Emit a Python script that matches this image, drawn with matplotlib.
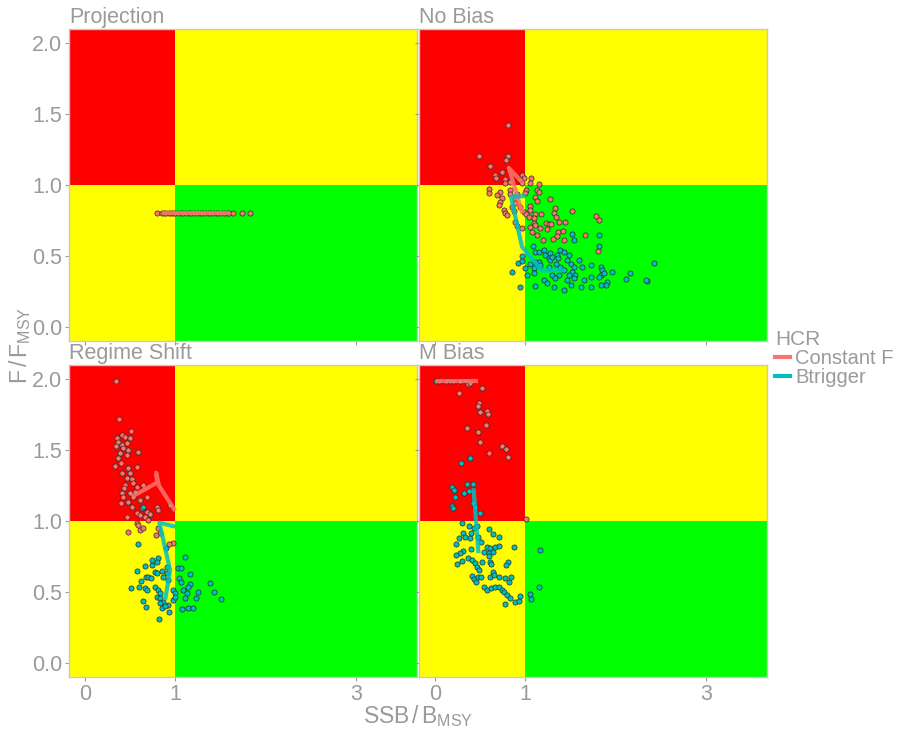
import matplotlib
matplotlib.use('Agg')
import matplotlib.pyplot as plt
from matplotlib.patches import Rectangle
from matplotlib.lines import Line2D

# ---- data ----
PANELS = ['Projection', 'No Bias', 'Regime Shift', 'M Bias']
HCR = ['Constant F', 'Btrigger']
HCR_COLORS = ['#F8766D', '#00BFC4']

# Projection
proj_cf_x = [0.80, 0.86, 0.88, 0.90, 0.93, 0.95, 0.98, 1.00, 1.03, 1.06, 1.09, 1.12, 1.15,
             1.18, 1.21, 1.24, 1.27, 1.30, 1.33, 1.36, 1.39, 1.42, 1.45, 1.48, 1.51, 1.54,
             1.57, 1.60, 1.64, 1.74, 1.83]
proj_cf_y = [0.80] * len(proj_cf_x)
proj_cf_line_x = [0.86, 1.60]
proj_cf_line_y = [0.80, 0.80]

# No Bias
nobias_cf_x = [0.806, 0.495, 0.806, 0.788, 0.607, 0.743, 0.669, 0.680, 0.773, 0.780, 0.829,
               0.966, 0.984, 0.947, 1.069, 0.966, 1.151, 1.058, 0.595, 0.595, 0.725, 0.688,
               0.829, 0.836, 0.910, 1.014, 1.003, 1.132, 1.151, 0.743, 0.725, 0.706, 0.884,
               0.892, 1.106, 1.132, 1.273, 0.762, 0.780, 0.799, 0.855, 0.873, 0.947, 0.984,
               1.051, 1.058, 1.014, 1.040, 1.114, 1.177, 1.329, 1.317, 1.347, 1.521, 1.095,
               1.095, 0.892, 0.910, 0.966, 1.058, 1.114, 1.169, 1.236, 1.262, 1.292, 1.243,
               1.373, 1.440, 1.077, 1.132, 1.366, 1.421, 1.355, 1.310, 1.199, 1.429, 1.669,
               1.788, 1.817, 1.810]
nobias_cf_y = [1.426, 1.203, 1.205, 1.179, 1.132, 1.092, 1.069, 1.050, 1.038, 1.010, 1.020,
               1.069, 1.045, 1.033, 1.052, 1.010, 1.005, 1.010, 0.968, 0.940, 0.951, 0.928,
               0.963, 0.935, 0.939, 0.967, 0.944, 0.967, 0.951, 0.904, 0.880, 0.857, 0.897,
               0.869, 0.911, 0.888, 0.897, 0.822, 0.798, 0.786, 0.845, 0.817, 0.845, 0.810,
               0.850, 0.822, 0.793, 0.775, 0.793, 0.791, 0.834, 0.798, 0.770, 0.819, 0.763,
               0.728, 0.739, 0.709, 0.697, 0.704, 0.716, 0.697, 0.728, 0.723, 0.721, 0.685,
               0.735, 0.737, 0.669, 0.645, 0.669, 0.671, 0.638, 0.615, 0.610, 0.610, 0.643,
               0.777, 0.751, 0.532]
nobias_bt_x = [1.521, 1.540, 1.817, 1.817, 1.084, 0.966, 0.921, 0.966, 0.855, 0.940, 1.058,
               0.995, 1.021, 1.114, 1.106, 1.158, 1.207, 1.225, 1.095, 1.095, 1.151, 1.169,
               1.262, 1.280, 1.355, 1.366, 1.347, 1.262, 1.392, 1.429, 1.484, 1.466, 1.503,
               1.540, 1.521, 1.484, 1.595, 1.632, 1.558, 1.207, 1.243, 1.299, 1.336, 1.373,
               1.317, 1.429, 1.466, 1.540, 1.503, 1.650, 1.725, 1.725, 1.614, 1.725, 1.836,
               1.855, 1.836, 1.817, 1.873, 1.966, 1.910, 1.892, 1.836, 2.114, 2.162, 2.355,
               2.429, 1.280, 1.299, 1.392, 1.429, 1.114, 2.34]
nobias_bt_y = [0.650, 0.610, 0.648, 0.568, 0.568, 0.497, 0.452, 0.464, 0.387, 0.276, 0.445,
               0.410, 0.363, 0.288, 0.528, 0.528, 0.540, 0.504, 0.410, 0.375, 0.457, 0.434,
               0.481, 0.469, 0.504, 0.481, 0.445, 0.422, 0.540, 0.528, 0.504, 0.469, 0.445,
               0.422, 0.387, 0.363, 0.473, 0.422, 0.363, 0.328, 0.309, 0.363, 0.340, 0.363,
               0.281, 0.257, 0.328, 0.340, 0.293, 0.328, 0.351, 0.281, 0.281, 0.434, 0.422,
               0.398, 0.363, 0.351, 0.375, 0.387, 0.316, 0.293, 0.293, 0.335, 0.375, 0.321,
               0.452, 0.516, 0.492, 0.422, 0.398, 0.457, 0.33]
nobias_cf_line_x = [0.97, 0.82, 0.98]
nobias_cf_line_y = [0.80, 1.12, 1.01]
nobias_bt_line_x = [1.003, 0.844, 0.966, 1.188, 1.429]
nobias_bt_line_y = [0.921, 0.916, 0.563, 0.394, 0.399]

# Regime Shift
regime_cf_x = [0.344, 0.381, 0.511, 0.407, 0.444, 0.500, 0.352, 0.370, 0.344, 0.407, 0.426,
               0.389, 0.463, 0.481, 0.463, 0.592, 0.370, 0.333, 0.396, 0.581, 0.481, 0.500,
               0.407, 0.463, 0.518, 0.537, 0.648, 0.574, 0.555, 0.444, 0.430, 0.407, 0.426,
               0.500, 0.537, 0.685, 0.400, 0.481, 0.518, 0.611, 0.630, 0.574, 0.611, 0.685,
               0.722, 0.796, 0.807, 0.944, 0.666, 0.704, 0.481, 0.611, 0.648, 0.574, 0.592,
               0.463, 0.815, 0.833, 0.789, 0.974, 0.937]
regime_cf_y = [1.990, 1.717, 1.637, 1.606, 1.590, 1.583, 1.583, 1.559, 1.529, 1.536, 1.512,
               1.477, 1.548, 1.500, 1.465, 1.489, 1.442, 1.387, 1.406, 1.378, 1.371, 1.336,
               1.336, 1.300, 1.293, 1.265, 1.253, 1.242, 1.206, 1.253, 1.230, 1.199, 1.171,
               1.194, 1.166, 1.171, 1.124, 1.136, 1.100, 1.147, 1.089, 1.053, 1.042, 1.065,
               1.049, 1.100, 1.077, 1.112, 1.030, 1.006, 0.919, 0.936, 0.947, 0.987, 0.971,
               1.030, 0.948, 0.912, 0.900, 0.846, 0.837]
regime_bt_x = [0.585, 0.641, 0.807, 0.796, 0.900, 0.581, 0.511, 0.622, 0.666, 0.740, 0.678,
               0.704, 0.729, 0.778, 0.796, 0.852, 0.870, 0.926, 0.915, 0.603, 0.666, 0.692,
               0.778, 0.815, 0.833, 0.796, 0.833, 0.870, 0.641, 0.678, 0.833, 0.852, 0.926,
               0.889, 0.826, 0.937, 0.981, 1.000, 0.981, 1.037, 1.063, 1.044, 1.063, 1.111,
               1.166, 1.092, 1.129, 1.111, 1.074, 1.148, 1.196, 1.166, 1.148, 1.252, 1.233,
               1.381, 1.426, 1.507, 0.907, 0.740, 1.000]
regime_bt_y = [0.835, 1.100, 0.736, 0.712, 0.806, 0.649, 0.524, 0.576, 0.684, 0.689, 0.606,
               0.602, 0.595, 0.642, 0.630, 0.649, 0.606, 0.583, 0.630, 0.536, 0.524, 0.512,
               0.536, 0.512, 0.489, 0.461, 0.453, 0.430, 0.437, 0.395, 0.418, 0.383, 0.407,
               0.400, 0.308, 0.360, 0.512, 0.489, 0.442, 0.665, 0.665, 0.595, 0.571, 0.748,
               0.623, 0.512, 0.489, 0.453, 0.376, 0.383, 0.383, 0.555, 0.536, 0.500, 0.453,
               0.564, 0.496, 0.446, 0.677, 0.724, 0.465]
regime_cf_line_x = [0.52, 0.80, 0.79, 0.82, 1.00]
regime_cf_line_y = [1.17, 1.27, 1.34, 1.25, 1.07]
regime_bt_line_x = [1.000, 0.826, 0.944, 0.889]
regime_bt_line_y = [0.959, 0.987, 0.652, 0.440]

# M Bias
mbias_cf_x = [0.05, 0.12, 0.20, 0.28, 0.35, 0.373, 0.392, 0.521, 0.273, 0.495, 0.477, 0.503,
              0.577, 0.588, 0.566, 0.362, 0.477, 0.503, 0.743, 0.788, 0.595, 0.806, 1.010]
mbias_cf_y = [1.99, 1.99, 1.99, 1.99, 1.99, 1.966, 1.976, 1.936, 1.905, 1.834, 1.811, 1.766,
              1.776, 1.754, 1.677, 1.653, 1.630, 1.559, 1.531, 1.507, 1.477, 1.449, 1.013]
mbias_bt_x = [0.014, 0.169, 0.392, 0.292, 0.355, 0.421, 0.195, 0.217, 0.329, 0.384, 0.225,
              0.195, 0.199, 0.421, 0.447, 0.503, 0.299, 0.384, 0.429, 0.473, 0.603, 0.310,
              0.336, 0.392, 0.650, 0.706, 0.273, 0.399, 0.484, 0.514, 0.232, 0.317, 0.280,
              0.236, 0.403, 0.577, 0.614, 0.669, 0.706, 0.547, 0.595, 0.643, 0.603, 0.880,
              0.299, 0.243, 0.373, 0.410, 0.440, 0.466, 0.495, 0.521, 0.607, 0.625, 0.806,
              0.792, 0.650, 0.410, 0.429, 0.458, 0.484, 0.510, 0.607, 0.658, 0.710, 0.780,
              0.817, 0.843, 0.540, 0.577, 0.621, 0.669, 0.714, 0.743, 0.762, 0.799, 0.836,
              0.884, 0.929, 0.947, 0.773, 1.058, 1.066, 1.151, 1.169]
mbias_bt_y = [1.990, 1.990, 1.446, 1.406, 1.258, 1.258, 1.242, 1.218, 1.194, 1.213, 1.171,
              1.105, 1.093, 1.124, 1.100, 1.053, 0.983, 0.966, 0.948, 0.966, 0.943, 0.912,
              0.889, 0.877, 0.905, 0.889, 0.882, 0.912, 0.889, 0.853, 0.835, 0.790, 0.776,
              0.757, 0.799, 0.813, 0.806, 0.818, 0.825, 0.783, 0.776, 0.783, 0.752, 0.813,
              0.717, 0.696, 0.736, 0.724, 0.705, 0.677, 0.653, 0.708, 0.712, 0.696, 0.708,
              0.689, 0.642, 0.611, 0.588, 0.571, 0.602, 0.602, 0.606, 0.618, 0.606, 0.595,
              0.571, 0.606, 0.536, 0.512, 0.524, 0.536, 0.536, 0.512, 0.500, 0.477, 0.453,
              0.425, 0.435, 0.470, 0.411, 0.482, 0.451, 0.531, 0.795]
mbias_cf_line_x = [0.014, 0.484]
mbias_cf_line_y = [1.988, 1.988]
mbias_bt_line_x = [0.429, 0.484]
mbias_bt_line_y = [1.230, 0.772]

POINTS = {
    'Projection': [(proj_cf_x, proj_cf_y), ([], [])],
    'No Bias': [(nobias_cf_x, nobias_cf_y), (nobias_bt_x, nobias_bt_y)],
    'Regime Shift': [(regime_cf_x, regime_cf_y), (regime_bt_x, regime_bt_y)],
    'M Bias': [(mbias_cf_x, mbias_cf_y), (mbias_bt_x, mbias_bt_y)],
}
LINES = {
    'Projection': [(proj_cf_line_x, proj_cf_line_y), ([], [])],
    'No Bias': [(nobias_cf_line_x, nobias_cf_line_y), (nobias_bt_line_x, nobias_bt_line_y)],
    'Regime Shift': [(regime_cf_line_x, regime_cf_line_y), (regime_bt_line_x, regime_bt_line_y)],
    'M Bias': [(mbias_cf_line_x, mbias_cf_line_y), (mbias_bt_line_x, mbias_bt_line_y)],
}

X_TICKS = [0, 1, 3]
Y_TICKS = [0.0, 0.5, 1.0, 1.5, 2.0]

GREY = '#9a9a9a'
FS = 15.5
plt.rcParams['font.family'] = ['Liberation Sans', 'DejaVu Sans']
plt.rcParams['mathtext.fontset'] = 'custom'
plt.rcParams['mathtext.rm'] = 'Liberation Sans'
plt.rcParams['mathtext.it'] = 'Liberation Sans'

fig = plt.figure(figsize=(9.01, 7.31), dpi=100)

# panel boxes (fig fraction): left col / right col, top row / bottom row
lefts = [0.0766, 0.4650]
bottoms = [0.5339, 0.0743]
w, h = 0.3859, 0.4264

for i, name in enumerate(PANELS):
    r, c = divmod(i, 2)
    ax = fig.add_axes([lefts[c], bottoms[r], w, h])
    ax.set_xlim(-0.175, 3.675)
    ax.set_ylim(-0.1, 2.1)

    # kobe background
    ax.add_patch(Rectangle((-1, 1), 2, 5, color='#FF0000', lw=0, zorder=0))
    ax.add_patch(Rectangle((-1, -1), 2, 2, color='#FFFF00', lw=0, zorder=0))
    ax.add_patch(Rectangle((1, 1), 5, 5, color='#FFFF00', lw=0, zorder=0))
    ax.add_patch(Rectangle((1, -1), 5, 2, color='#00FF00', lw=0, zorder=0))

    for k in range(2):
        px, py = POINTS[name][k]
        if px:
            ax.scatter(px, py, s=14, c=HCR_COLORS[k], edgecolors='#2a2a2a',
                       linewidths=0.5, zorder=3)
    for k in range(2):
        lx, ly = LINES[name][k]
        if lx:
            ax.plot(lx, ly, color=HCR_COLORS[k], lw=3.0, alpha=0.85,
                    solid_capstyle='butt', zorder=4)

    for s in ax.spines.values():
        s.set_color('#c8c8c8')
        s.set_linewidth(1.0)

    ax.set_xticks(X_TICKS)
    ax.set_yticks(Y_TICKS)
    ax.set_xticklabels([str(t) for t in X_TICKS])
    ax.set_yticklabels([f'{t:.1f}' for t in Y_TICKS])
    ax.tick_params(colors=GREY, labelcolor=GREY, labelsize=FS, length=3, width=0.8, pad=2)
    if c == 1:
        ax.tick_params(labelleft=False)
    if r == 0:
        ax.tick_params(labelbottom=False)

    ax.text(0.0, 1.002, name, transform=ax.transAxes, ha='left', va='bottom',
            fontsize=FS, color=GREY)

fig.text(0.4638, 0.020, r'$\mathrm{SSB\,/\,B_{MSY}}$', ha='center', va='center',
         fontsize=16.5, color=GREY)
fig.text(0.022, 0.528, r'$\mathrm{F\,/\,F_{MSY}}$', ha='center', va='center',
         rotation=90, fontsize=16.5, color=GREY)

# legend
handles = [Line2D([0], [0], color=col, lw=3) for col in HCR_COLORS]
leg = fig.legend(handles, HCR, title='HCR', loc='center left',
                 bbox_to_anchor=(0.860, 0.51), frameon=False, fontsize=14.5,
                 title_fontsize=15, handlelength=0.75, handletextpad=0.25,
                 labelspacing=0.0, borderaxespad=0.0, borderpad=0.0)
leg._legend_box.align = 'left'
for t in leg.get_texts():
    t.set_color(GREY)
leg.get_title().set_color(GREY)

fig.savefig('out.png', dpi=100)
